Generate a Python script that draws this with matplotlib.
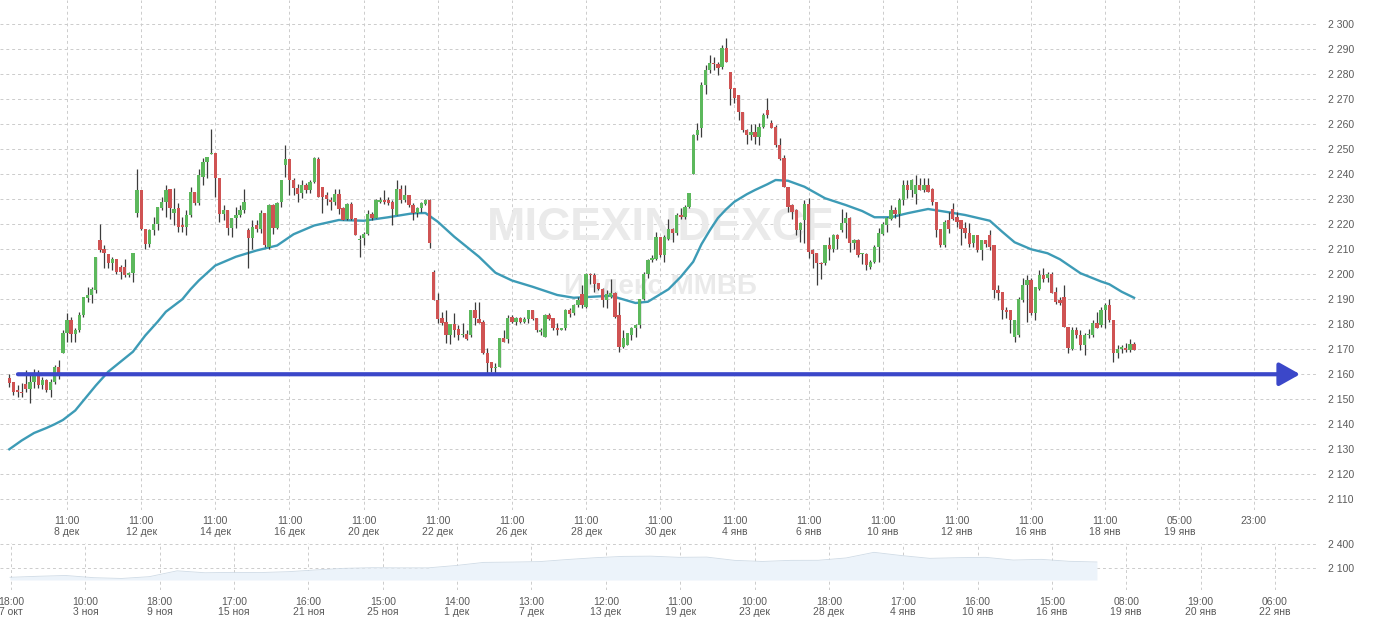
import numpy as np
import matplotlib.pyplot as plt

plt.rcParams['font.family'] = ['Liberation Sans', 'DejaVu Sans']

# OHLC candles (left to right)
opens = [
    2158.5, 2157, 2153.5, 2153, 2156, 2154, 2157, 2160.5, 2155.5, 2157.5,
    2153.5, 2157, 2163, 2168.5, 2176.5, 2181.5, 2176, 2177.5, 2183.5, 2190.5,
    2191.5, 2193.5, 2213.5, 2210, 2208, 2204.5, 2206, 2203, 2203, 2199.5,
    2200.5, 2224.5, 2233.5, 2218, 2212, 2217.5, 2220, 2226.5, 2229, 2234,
    2224.5, 2226.5, 2219.5, 2219, 2223.5, 2233, 2228.5, 2239, 2245, 2248,
    2248.5, 2238.5, 2224, 2225.5, 2218.5, 2222.5, 2223.5, 2225.5, 2217.5, 2214.5,
    2219.5, 2218, 2224.5, 2211, 2227.5, 2218.5, 2229, 2243.5, 2246, 2237.5,
    2234.5, 2232.5, 2235.5, 2233.5, 2237, 2246, 2235, 2231.5, 2229.5, 2229,
    2232, 2226.5, 2222, 2228, 2222.5, 2213.5, 2214.5, 2216, 2224, 2222.5,
    2229, 2229.5, 2229.5, 2229, 2223.5, 2234, 2229.5, 2231.5, 2227.5, 2224.5,
    2226.5, 2228, 2229.5, 2201, 2189.5, 2182.5, 2181, 2175.5, 2180, 2178,
    2175.5, 2176, 2175.5, 2185.5, 2182, 2181, 2168.5, 2165, 2162.5, 2163,
    2174.5, 2174, 2183, 2181, 2182.5, 2181, 2182, 2185.5, 2182.5, 2177,
    2175, 2183.5, 2182.5, 2178.5, 2177.5, 2178.5, 2185.5, 2184.5, 2187.5, 2192,
    2187, 2200, 2199.5, 2196.5, 2194, 2189.5, 2191, 2192.5, 2183.5, 2171,
    2171.5, 2175.5, 2178.5, 2179.5, 2190, 2200, 2205.5, 2206, 2215, 2207.5,
    2214, 2218, 2216.5, 2223.5, 2223, 2227, 2240, 2255.5, 2258.5, 2275.5,
    2281.5, 2284.5, 2284, 2283, 2290.5, 2281, 2274.5, 2271.5, 2265, 2257.5,
    2255.5, 2257, 2255, 2259, 2265.5, 2260.5, 2259, 2251.5, 2246.5, 2235,
    2227.5, 2225.5, 2217.5, 2221.5, 2228, 2209.5, 2208.5, 2204.5, 2204.5, 2211.5,
    2210, 2215.5, 2217.5, 2220.5, 2222.5, 2212.5, 2213.5, 2208, 2208, 2203,
    2205, 2211, 2216, 2219.5, 2222, 2225.5, 2224, 2229.5, 2235.5, 2233.5,
    2232, 2235.5, 2233.5, 2235.5, 2234, 2229, 2218, 2211.5, 2221.5, 2226,
    2223, 2221.5, 2218.5, 2216.5, 2212.5, 2215.5, 2209.5, 2213.5, 2215.5, 2211.5,
    2193.5, 2193, 2185.5, 2185.5, 2175, 2175.5, 2189.5, 2195.5, 2197.5, 2184.5,
    2194, 2199.5, 2198.5, 2200, 2193, 2189.5, 2191, 2179, 2170, 2177.5,
    2175.5, 2171.5, 2175.5, 2175.5, 2180.5, 2179.5, 2185.5, 2187.5, 2181.5, 2168.5,
    2170, 2170.5, 2169.5, 2172,
]
highs = [
    2160, 2157, 2155.5, 2156.5, 2161.5, 2160.5, 2162, 2161.5, 2159, 2158,
    2158, 2163.5, 2165.5, 2177.5, 2184.5, 2183, 2178.5, 2185, 2191, 2195,
    2195, 2207, 2220, 2211.5, 2208, 2207, 2206, 2203.5, 2206, 2201,
    2208.5, 2242, 2233.5, 2218, 2218, 2223, 2227, 2231, 2235.5, 2234,
    2234.5, 2228.5, 2223, 2225.5, 2235, 2233, 2242, 2246.5, 2247, 2258,
    2248.5, 2238.5, 2227.5, 2225.5, 2222.5, 2227, 2227.5, 2234, 2218.5, 2221.5,
    2221.5, 2225.5, 2224.5, 2228, 2228, 2229, 2237.5, 2251.5, 2246, 2238.5,
    2236, 2237.5, 2236.5, 2237.5, 2247, 2247, 2235, 2233, 2231, 2234,
    2234, 2227, 2228.5, 2229, 2222.5, 2215.5, 2217, 2225.5, 2225, 2230,
    2231, 2233.5, 2231, 2229.5, 2237.5, 2235.5, 2235.5, 2231.5, 2228.5, 2227,
    2229, 2230, 2230, 2201.5, 2192.5, 2185, 2185.5, 2180, 2184.5, 2179.5,
    2180.5, 2177.5, 2185.5, 2189, 2189, 2181.5, 2170.5, 2165, 2164.5, 2174.5,
    2177.5, 2183.5, 2183.5, 2183, 2183, 2183, 2185.5, 2185.5, 2182.5, 2178.5,
    2184, 2184.5, 2182.5, 2180.5, 2178.5, 2186, 2186.5, 2188, 2191, 2195.5,
    2200.5, 2200.5, 2200.5, 2196.5, 2194.5, 2193.5, 2198, 2193, 2189, 2177.5,
    2176.5, 2179, 2180, 2190, 2201, 2206, 2207.5, 2217, 2215, 2215.5,
    2222, 2218.5, 2224.5, 2226.5, 2227.5, 2232.5, 2256, 2260.5, 2277, 2283.5,
    2287.5, 2287, 2285, 2291.5, 2294.5, 2281, 2274.5, 2271.5, 2265, 2258,
    2260, 2260, 2260.5, 2264.5, 2270.5, 2261.5, 2259.5, 2254.5, 2247.5, 2235,
    2228, 2226, 2221, 2229.5, 2230.5, 2210, 2208.5, 2205, 2211.5, 2215,
    2216, 2216, 2226, 2225, 2223, 2214, 2214, 2208.5, 2208.5, 2205.5,
    2211.5, 2218.5, 2221, 2223, 2227.5, 2227, 2230.5, 2237.5, 2237.5, 2238,
    2239.5, 2238.5, 2238.5, 2238.5, 2234.5, 2229, 2218, 2221.5, 2225, 2228.5,
    2225, 2221.5, 2221, 2220.5, 2215.5, 2215.5, 2213.5, 2213.5, 2217.5, 2211.5,
    2195.5, 2193, 2187, 2185.5, 2181.5, 2191, 2198.5, 2199.5, 2198.5, 2195,
    2201.5, 2202.5, 2201, 2201, 2195, 2191, 2195.5, 2179, 2179, 2179,
    2177.5, 2176.5, 2178, 2181.5, 2185, 2187, 2188.5, 2190, 2181.5, 2171.5,
    2171.5, 2172.5, 2174, 2173,
]
lows = [
    2155, 2151.5, 2151, 2151, 2153, 2148.5, 2154.5, 2154.5, 2154, 2153,
    2151, 2156, 2158, 2168.5, 2173, 2173, 2173, 2177, 2183, 2189,
    2188.5, 2192.5, 2209, 2202.5, 2202.5, 2201.5, 2200, 2198, 2199, 2199,
    2197, 2223, 2217.5, 2210, 2211, 2215.5, 2217.5, 2225.5, 2223, 2222,
    2219.5, 2217, 2217, 2215.5, 2223, 2227.5, 2227.5, 2235.5, 2238.5, 2248,
    2231, 2221, 2221.5, 2215.5, 2215, 2218.5, 2223, 2224.5, 2202.5, 2210,
    2217, 2216.5, 2211, 2210, 2216, 2218, 2227, 2239, 2231.5, 2231.5,
    2229, 2230.5, 2232.5, 2232.5, 2236.5, 2231, 2224.5, 2227.5, 2225.5, 2227.5,
    2224, 2221.5, 2221.5, 2221.5, 2215.5, 2207, 2211.5, 2215.5, 2221.5, 2222.5,
    2228.5, 2228, 2227.5, 2219.5, 2223.5, 2228.5, 2229, 2227, 2221.5, 2223,
    2225, 2227.5, 2210.5, 2189.5, 2180.5, 2179.5, 2172.5, 2172, 2175, 2173.5,
    2175, 2173.5, 2175, 2179.5, 2180.5, 2168, 2160, 2161, 2160, 2163,
    2173, 2172.5, 2180.5, 2179.5, 2180.5, 2180.5, 2180.5, 2181.5, 2177, 2175.5,
    2175, 2181.5, 2177.5, 2175.5, 2177.5, 2177.5, 2183, 2183.5, 2187, 2186.5,
    2186.5, 2196, 2193, 2193.5, 2187, 2186.5, 2190.5, 2182.5, 2169, 2170.5,
    2171.5, 2173.5, 2175, 2178.5, 2189.5, 2198.5, 2205, 2205.5, 2207, 2205,
    2213.5, 2213, 2215.5, 2222, 2222, 2226.5, 2240, 2253.5, 2255, 2272,
    2280.5, 2281.5, 2279.5, 2282, 2285, 2267.5, 2268.5, 2261.5, 2257, 2252,
    2253.5, 2252, 2251.5, 2258.5, 2262.5, 2258.5, 2251, 2245.5, 2235, 2225,
    2222, 2215.5, 2213, 2212.5, 2206.5, 2202.5, 2195.5, 2198, 2203.5, 2205.5,
    2209, 2210, 2217, 2214.5, 2209, 2210, 2207, 2204, 2201.5, 2202,
    2204.5, 2205, 2215.5, 2217, 2221.5, 2222.5, 2219, 2227.5, 2230.5, 2231,
    2228, 2233.5, 2233, 2233, 2227.5, 2215, 2211, 2211, 2216.5, 2221.5,
    2219, 2211.5, 2214.5, 2211, 2211, 2209, 2205.5, 2211, 2209.5, 2190.5,
    2189.5, 2182, 2182.5, 2176.5, 2173, 2175, 2189, 2181, 2183.5, 2181.5,
    2193.5, 2197, 2197, 2192.5, 2188, 2187.5, 2179, 2168.5, 2169.5, 2174.5,
    2169.5, 2167.5, 2174.5, 2175, 2178.5, 2179, 2178.5, 2181, 2165, 2166.5,
    2168.5, 2169, 2169, 2169.5,
]
closes = [
    2156.5, 2153, 2153, 2152.5, 2154, 2157, 2160.5, 2155.5, 2157.5, 2153.5,
    2157, 2163, 2160, 2176.5, 2181.5, 2176, 2177.5, 2183.5, 2191, 2191.5,
    2194, 2207, 2209.5, 2208.5, 2204.5, 2206, 2201, 2201, 2199.5, 2200.5,
    2208.5, 2233.5, 2218, 2212, 2217.5, 2220, 2227, 2229, 2233.5, 2226.5,
    2226, 2219, 2219, 2223.5, 2233, 2228.5, 2239.5, 2245, 2247, 2248.5,
    2238.5, 2224, 2225.5, 2218.5, 2222.5, 2223.5, 2225.5, 2229, 2214.5, 2219,
    2218, 2224.5, 2211.5, 2227.5, 2218.5, 2228.5, 2237.5, 2246, 2237.5, 2234.5,
    2232, 2235.5, 2233.5, 2237, 2246.5, 2231, 2231, 2230, 2229, 2232,
    2226, 2221.5, 2228, 2222, 2215.5, 2214, 2216, 2224, 2222.5, 2229.5,
    2229.5, 2229, 2228.5, 2226, 2234, 2229.5, 2231.5, 2227.5, 2224.5, 2226.5,
    2228.5, 2229.5, 2212.5, 2189.5, 2182, 2180.5, 2175.5, 2180, 2177.5, 2175.5,
    2176, 2174, 2185.5, 2182.5, 2180.5, 2168.5, 2164.5, 2162.5, 2163, 2174.5,
    2173, 2182.5, 2181, 2182.5, 2181, 2182, 2185.5, 2182, 2177.5, 2177.5,
    2183.5, 2182, 2178.5, 2177.5, 2178.5, 2185.5, 2184, 2187.5, 2189.5, 2187.5,
    2200, 2199.5, 2196, 2194, 2189.5, 2192, 2192.5, 2183, 2171, 2174.5,
    2176.5, 2178.5, 2179.5, 2190, 2200, 2205.5, 2206.5, 2215, 2207.5, 2215,
    2218, 2216.5, 2223.5, 2223, 2227, 2232.5, 2255.5, 2257.5, 2275.5, 2281.5,
    2284.5, 2284, 2282.5, 2290.5, 2285, 2274, 2270.5, 2265, 2257.5, 2255.5,
    2257, 2255, 2259, 2263.5, 2263.5, 2258.5, 2251.5, 2246, 2235, 2227,
    2225, 2217.5, 2220.5, 2228, 2209, 2208, 2204.5, 2204, 2211.5, 2210,
    2215.5, 2214, 2220.5, 2222.5, 2212.5, 2213.5, 2207.5, 2208.5, 2203.5, 2205,
    2211, 2216.5, 2220, 2222.5, 2225.5, 2224, 2229.5, 2235.5, 2233.5, 2237.5,
    2235.5, 2233.5, 2235.5, 2233, 2229, 2217.5, 2211.5, 2221, 2218, 2222,
    2221, 2218, 2216.5, 2212, 2215.5, 2209.5, 2213.5, 2212, 2211, 2193.5,
    2192.5, 2185.5, 2185, 2181.5, 2181.5, 2190, 2195.5, 2197.5, 2184.5, 2195,
    2199.5, 2198, 2200, 2192.5, 2189, 2188.5, 2179, 2170.5, 2177.5, 2175.5,
    2171.5, 2175.5, 2176, 2180.5, 2178.5, 2185.5, 2187.5, 2181.5, 2168.5, 2170,
    2171, 2169.5, 2172, 2169.5,
]

# moving average line, read at candle indices
ma_idx = [0, 3, 6, 9, 11, 13, 16, 18, 21, 24, 27, 30, 33, 36, 38, 40, 42, 44,
          46, 48, 50, 55, 60, 65, 69, 74, 80,
          86, 92, 98, 101, 104, 108, 111, 114, 118, 122, 127, 133, 137, 146, 152,
          155, 157, 160, 163, 166, 168, 170, 172, 174, 176, 179, 181, 184, 186,
          189, 193, 198, 203, 207, 210, 214,
          218, 223, 228, 232, 238, 241, 244, 248, 252, 255, 260, 265, 267, 270, 273]
ma_val = [2130, 2133.5, 2136.5, 2138.5, 2140, 2141.7, 2145.5, 2149.5, 2155.5,
          2161, 2165, 2169, 2175.5, 2181, 2185, 2187.5, 2190, 2194,
          2197.5, 2200.5, 2203.5, 2207, 2209.5, 2211.5, 2216, 2219.5, 2221.7,
          2221.4, 2222.8, 2224.4, 2224.5, 2221, 2215, 2211, 2207, 2200.6,
          2197.5, 2195, 2191.7, 2190.6, 2191.4, 2188.5,
          2189, 2191, 2194, 2199, 2205, 2212, 2217.5, 2222.5, 2226, 2229,
          2232, 2233.7, 2236, 2237.7, 2237.4, 2235, 2230.4, 2227.7, 2225.3,
          2222.8, 2222.8, 2224.4, 2226.1, 2224.8, 2223.7, 2221.4, 2217, 2212.8,
          2210, 2208.4, 2206, 2200.4, 2197.1, 2196, 2193, 2190.6]

level = 2160

x_ticks = [14 + 18 * k for k in range(17)]
x_labels = ['11:00\n8 дек', '11:00\n12 дек', '11:00\n14 дек', '11:00\n16 дек',
            '11:00\n20 дек', '11:00\n22 дек', '11:00\n26 дек', '11:00\n28 дек',
            '11:00\n30 дек', '11:00\n4 янв', '11:00\n6 янв', '11:00\n10 янв',
            '11:00\n12 янв', '11:00\n16 янв', '11:00\n18 янв', '05:00\n19 янв',
            '23:00']
y_ticks = list(range(2110, 2301, 10))

# navigator (whole history) values, evenly spaced
nav_vals = [1977, 1990, 2000, 1972, 1962, 1985, 2060, 2035, 2040, 2038,
            2049, 2072, 2092, 2100, 2098, 2098, 2128, 2168, 2172, 2178,
            2205, 2228, 2245, 2248, 2233, 2236, 2194, 2180, 2194, 2195,
            2225, 2297, 2255, 2220, 2228, 2233, 2198, 2207, 2182, 2173]
nav_labels = ['18:00\n7 окт', '10:00\n3 ноя', '18:00\n9 ноя', '17:00\n15 ноя',
              '16:00\n21 ноя', '15:00\n25 ноя', '14:00\n1 дек', '13:00\n7 дек',
              '12:00\n13 дек', '11:00\n19 дек', '10:00\n23 дек', '18:00\n28 дек',
              '17:00\n4 янв', '16:00\n10 янв', '15:00\n16 янв', '08:00\n19 янв',
              '19:00\n20 янв', '06:00\n22 янв']
nav_y_ticks = [2100, 2400]


def fmt(v):
    return f"{v // 1000} {v % 1000:03d}"


GRID = dict(color='#cccccc', linestyle=(0, (3, 3)), linewidth=0.7)
TXT = '#5a5a5a'

fig = plt.figure(figsize=(13.8, 6.22), dpi=100)
ax = fig.add_axes([0, 1 - 510 / 622, 1318 / 1380, 510 / 622])

o = np.array(opens)
h = np.array(highs)
l = np.array(lows)
c = np.array(closes)
idx = np.arange(len(o))
up = c >= o
colors = np.where(up, '#5cb85c', '#cf5353')

ax.text(0.5008, 0.553, 'MICEXINDEXCF', transform=ax.transAxes, ha='center',
        va='center', fontsize=33, fontweight='bold', color='#eaeaea', zorder=1)
ax.text(0.5008, 0.437, 'Индекс ММВБ', transform=ax.transAxes, ha='center',
        va='center', fontsize=20, fontweight='bold', color='#eaeaea', zorder=1)

ax.plot(ma_idx, ma_val, color='#3d9bb6', linewidth=1.7, zorder=2,
        solid_joinstyle='round')

ax.vlines(idx, l, h, color='#3c3c3c', linewidth=0.9, zorder=3)
body_h = np.maximum(np.abs(c - o), 0.45)
ax.bar(idx, body_h, bottom=np.minimum(o, c), width=0.8, color=colors,
       linewidth=0, zorder=4)

ax.annotate('', xy=(313.3, level), xytext=(2.1, level),
            arrowprops=dict(arrowstyle='-|>,head_length=1.25,head_width=0.7',
                            color='#3b47c9', lw=3, mutation_scale=10,
                            shrinkA=0, shrinkB=0),
            zorder=5, annotation_clip=False)

ax.set_xlim(-2.26, 317.65)
ax.set_ylim(2105.7, 2309.7)
ax.set_xticks(x_ticks)
ax.set_xticklabels(x_labels, fontsize=7.5, color=TXT, linespacing=1.15)
ax.set_yticks(y_ticks)
ax.set_yticklabels([fmt(v) for v in y_ticks], fontsize=7.5, color=TXT, ha='left')
ax.yaxis.tick_right()
ax.tick_params(axis='both', length=0)
ax.tick_params(axis='y', pad=7)
ax.tick_params(axis='x', pad=4)
ax.grid(True, **GRID)
ax.set_axisbelow(True)
for s in ax.spines.values():
    s.set_visible(False)

# navigator
nav = fig.add_axes([0, 1 - 590 / 622, 1318 / 1380, 47 / 622])
k = np.arange(len(nav_vals))
step = 27.87
nav.fill_between(k, nav_vals, 1942, color='#ecf3fa', linewidth=0, zorder=2)
nav.plot(k, nav_vals, color='#cfdbe6', linewidth=0.6, zorder=2)
nav_ticks = [(11 + 74.35 * j - 10) / step for j in range(len(nav_labels))]
nav.set_xlim(-10 / step, (1318 - 10) / step)
nav.set_ylim(1814, 2416.7)
nav.set_xticks(nav_ticks)
nav.set_xticklabels(nav_labels, fontsize=7.5, color=TXT, linespacing=1.05)
nav.set_yticks(nav_y_ticks)
nav.set_yticklabels([fmt(v) for v in nav_y_ticks], fontsize=7.5, color=TXT, ha='left')
nav.yaxis.tick_right()
nav.tick_params(axis='both', length=0)
nav.tick_params(axis='y', pad=7)
nav.tick_params(axis='x', pad=5)
nav.grid(True, **GRID)
nav.set_axisbelow(True)
for s in nav.spines.values():
    s.set_visible(False)

fig.savefig('out.png', dpi=100)
